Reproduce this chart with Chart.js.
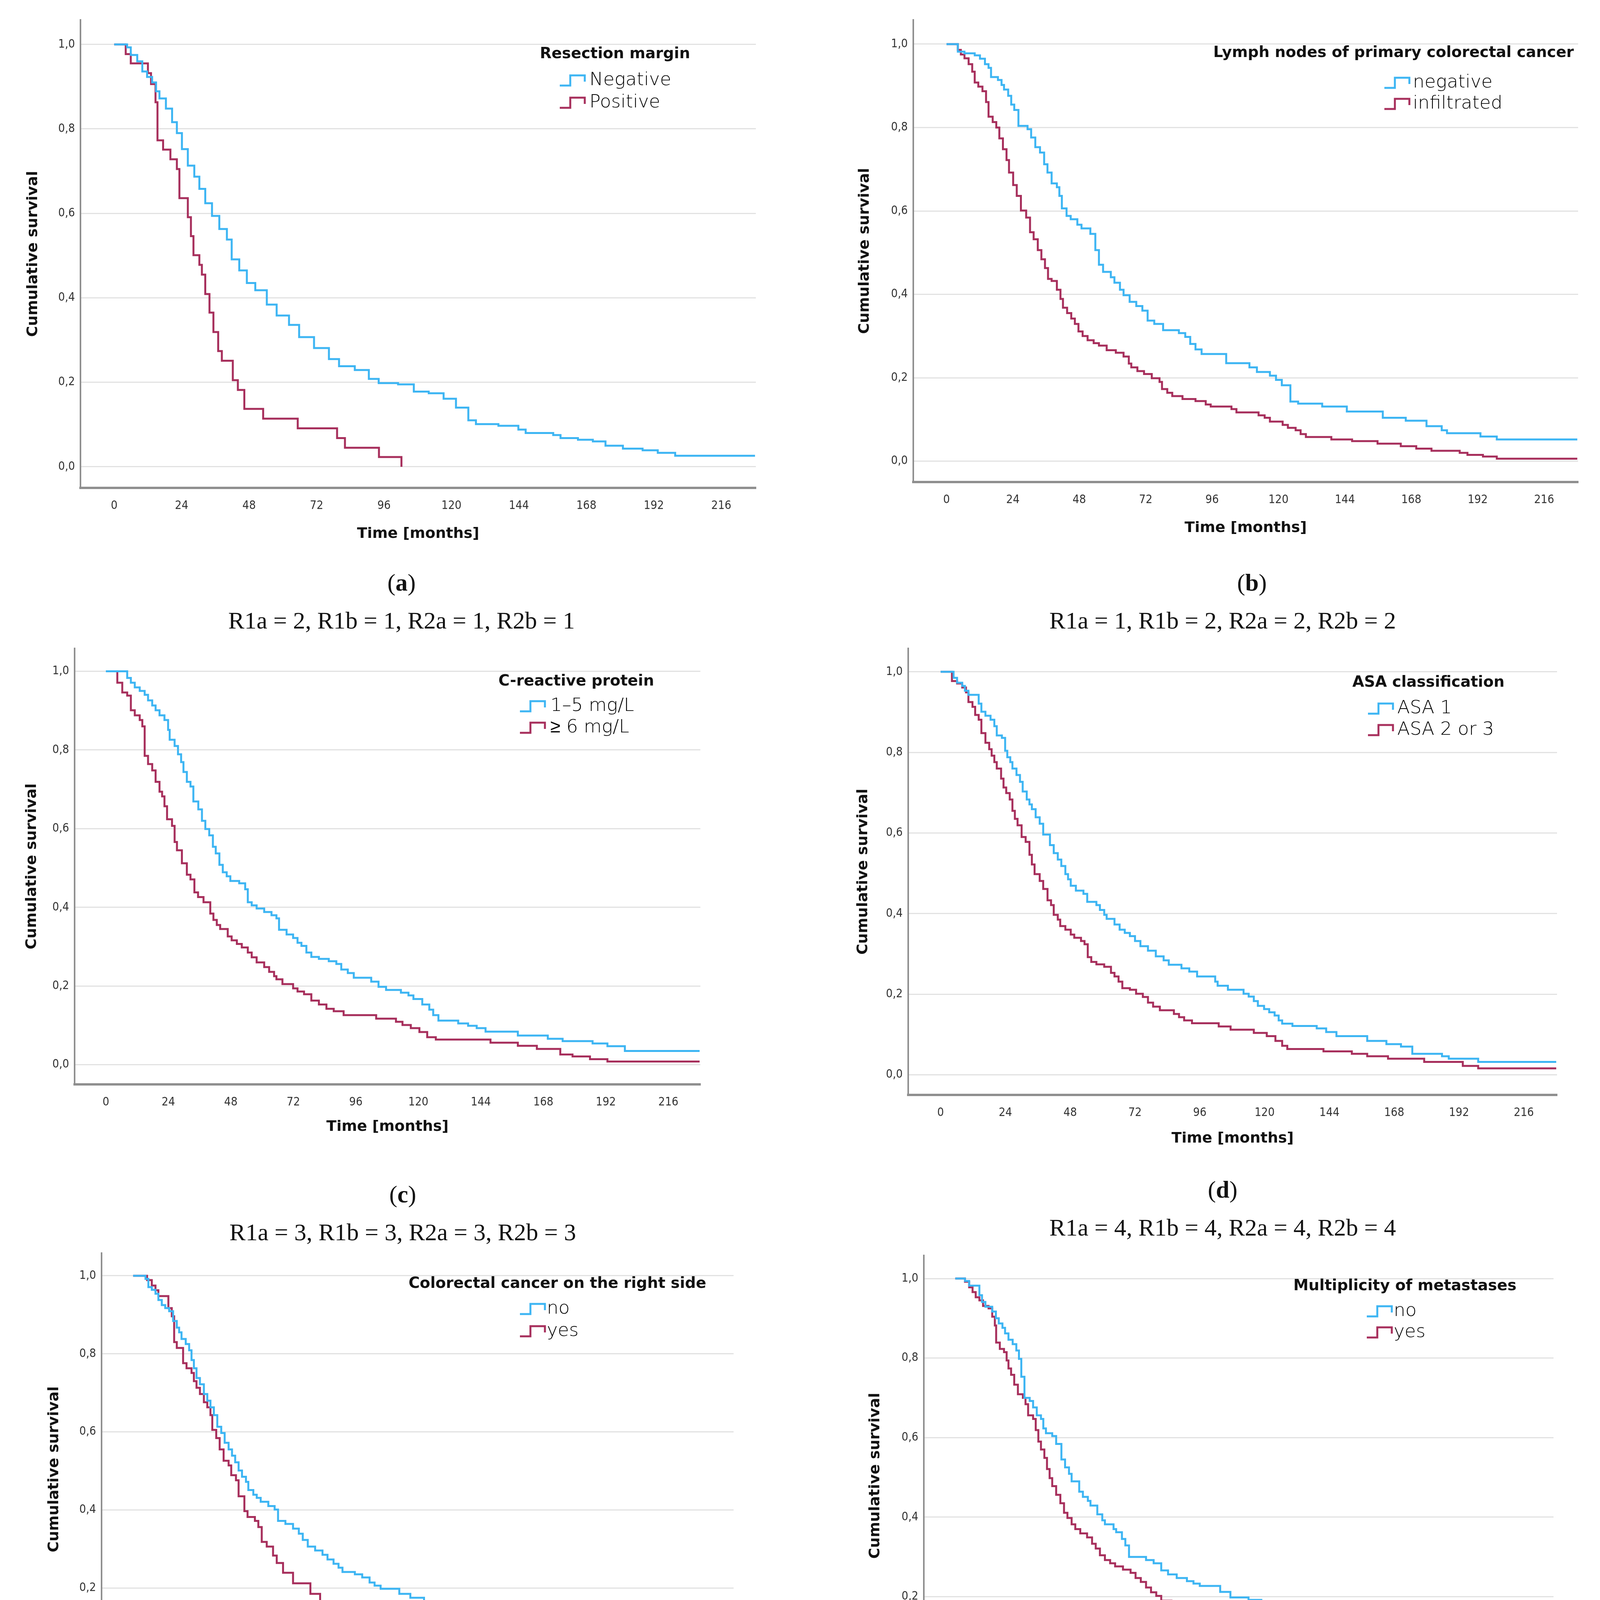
<!DOCTYPE html>
<html lang="en">
<head>
<meta charset="utf-8">
<title>Cumulative survival</title>
<script src="https://cdn.jsdelivr.net/npm/chart.js@4.4.1/dist/chart.umd.min.js"></script>
<style>
  html, body { margin: 0; padding: 0; background: #fff; }
  #page { position: relative; width: 4173px; height: 4742px; overflow: hidden; background: #fff; }
  #page canvas { position: absolute; }
  .sous-titre {
    position: absolute; transform: translate(-50%, -50%);
    font-family: "Liberation Serif", "DejaVu Serif", serif;
    font-size: 62px; color: #111; white-space: nowrap;
  }
</style>
</head>
<body>
<div id="page"></div>
<script>
// ---------- Donnees (temps en mois, survie cumulee) ----------

const ticksTemps = [0, 24, 48, 72, 96, 120, 144, 168, 192, 216];
const ticksSurvie = [0, 0.2, 0.4, 0.6, 0.8, 1.0];

// (a) Marge de resection
const margeNegative = [[0,1],[4.6,0.993],[5.9,0.975],[8.2,0.96],[10,0.936],[11.7,0.923],[13.5,0.91],[14.9,0.889],[16.1,0.872],[18.4,0.848],[20.6,0.816],[22.3,0.79],[24.1,0.752],[26.2,0.713],[28.5,0.687],[30.3,0.658],[32.4,0.624],[34.8,0.594],[37.4,0.563],[40.1,0.538],[41.8,0.491],[44.5,0.465],[47.2,0.435],[50.2,0.418],[54.3,0.384],[57.8,0.358],[62.2,0.336],[65.8,0.307],[71.1,0.281],[76.4,0.255],[80,0.238],[85.6,0.229],[90.6,0.208],[94.1,0.198],[101,0.195],[106.6,0.178],[111.9,0.174],[117.2,0.161],[121.6,0.14],[126,0.11],[128.7,0.101],[136.7,0.097],[143.8,0.088],[146.4,0.08],[156.2,0.075],[158.8,0.068],[165,0.064],[170.3,0.06],[174.8,0.05],[181,0.043],[188,0.039],[193.4,0.033],[199.6,0.026],[228,0.026]];
const margePositive = [[0,1],[4.1,0.977],[5.9,0.955],[12,0.932],[13.1,0.906],[14.7,0.863],[15.4,0.773],[17.4,0.751],[20,0.728],[22.3,0.705],[23.2,0.636],[26.2,0.591],[27.3,0.546],[28.2,0.501],[30.3,0.478],[31.2,0.455],[32.4,0.409],[33.9,0.365],[35.3,0.319],[37,0.274],[38.3,0.251],[42.2,0.205],[44,0.182],[46.3,0.137],[53,0.114],[65.3,0.091],[79.3,0.068],[82.1,0.045],[94.2,0.023],[102.2,0]];

// (b) Ganglions du cancer colorectal primitif
const ganglionsNegatif = [[0,1],[4.1,0.982],[6.5,0.978],[10.2,0.973],[12.1,0.965],[13.9,0.952],[15.2,0.943],[16.1,0.921],[18.6,0.914],[19.9,0.902],[20.8,0.891],[22.3,0.876],[23.4,0.855],[24.5,0.842],[26,0.804],[29.3,0.796],[30.6,0.776],[32.1,0.753],[33.8,0.74],[35.3,0.712],[36.5,0.692],[38,0.666],[39.9,0.657],[40.8,0.636],[41.7,0.606],[43.4,0.588],[44.9,0.58],[47.3,0.567],[48.8,0.558],[52,0.545],[53.8,0.506],[55.1,0.471],[56.6,0.454],[59.4,0.441],[60.7,0.428],[62.7,0.411],[64,0.398],[66.2,0.382],[68.6,0.372],[70.8,0.361],[72.7,0.337],[75.1,0.329],[78.3,0.314],[84,0.307],[86.3,0.298],[88.1,0.281],[90,0.268],[92.2,0.257],[101.1,0.235],[109.5,0.225],[112.2,0.214],[116.9,0.205],[119.1,0.195],[121.2,0.182],[124.3,0.143],[127.1,0.138],[135.8,0.131],[144.7,0.119],[157.7,0.104],[166,0.097],[173.5,0.084],[179,0.074],[180.9,0.067],[193,0.059],[198.9,0.052],[228,0.052]];
const ganglionsInfiltre = [[0,1],[4.1,0.986],[5.2,0.975],[6.5,0.966],[8,0.952],[9.3,0.934],[10.2,0.908],[11.5,0.898],[13,0.887],[14.3,0.861],[15.2,0.826],[16.7,0.813],[18,0.8],[19.1,0.774],[20.4,0.748],[21.7,0.722],[22.6,0.692],[24.1,0.662],[25.4,0.636],[26.9,0.601],[28.8,0.584],[30.2,0.549],[31.5,0.532],[33,0.506],[34.3,0.484],[35.6,0.463],[36.7,0.437],[38,0.432],[39.9,0.411],[41.2,0.389],[42.1,0.368],[43.6,0.355],[45.1,0.342],[46.4,0.329],[47.7,0.311],[49.2,0.3],[51,0.29],[53.2,0.283],[55.1,0.277],[57.9,0.266],[61.2,0.26],[64,0.251],[65.9,0.234],[66.8,0.225],[69,0.216],[71.4,0.209],[74.2,0.199],[77,0.19],[77.9,0.173],[79.8,0.164],[81.6,0.156],[85.3,0.149],[90,0.144],[93.7,0.136],[95.5,0.131],[103,0.125],[104.8,0.117],[112.8,0.11],[115,0.104],[116.9,0.095],[121.5,0.087],[123.4,0.08],[126.2,0.074],[128,0.065],[129.9,0.058],[139.1,0.052],[146.6,0.048],[155.8,0.042],[164.2,0.036],[169.8,0.03],[175.3,0.025],[185.5,0.02],[188.3,0.015],[193.9,0.011],[198.9,0.006],[228,0.006]];

// (c) Proteine C-reactive
const crpBasse = [[0,1],[8.2,0.983],[9.6,0.971],[11.1,0.959],[13,0.95],[14.9,0.94],[16.2,0.926],[17.8,0.913],[19.1,0.901],[20.6,0.888],[22.5,0.876],[23.9,0.851],[24.5,0.826],[26.4,0.81],[27.7,0.789],[28.9,0.769],[29.8,0.744],[31.1,0.719],[32.5,0.707],[33.6,0.669],[35.5,0.649],[36.9,0.62],[38.2,0.599],[39.7,0.583],[41.1,0.554],[42.2,0.537],[43.6,0.508],[44.9,0.489],[46.4,0.479],[47.8,0.467],[51.2,0.461],[53.5,0.446],[54.5,0.413],[56,0.405],[57.9,0.397],[60.8,0.388],[63.6,0.38],[65.5,0.372],[66.5,0.343],[69.4,0.331],[71.9,0.322],[73.6,0.31],[75.1,0.302],[77,0.285],[78.9,0.274],[81.8,0.269],[85.6,0.263],[88.5,0.256],[90.4,0.242],[92.9,0.233],[95.2,0.221],[101.9,0.211],[104.7,0.198],[107.6,0.19],[113.3,0.183],[116.2,0.176],[118.1,0.167],[121.5,0.153],[124.2,0.14],[125.7,0.126],[127.7,0.112],[135.3,0.105],[139.1,0.099],[142.4,0.093],[145.8,0.084],[158.2,0.074],[169.7,0.066],[175.4,0.06],[186.9,0.054],[192.6,0.047],[199.3,0.035],[228,0.035]];
const crpElevee = [[0,1],[4.4,0.971],[6.3,0.946],[8.2,0.938],[9.6,0.901],[11.1,0.888],[13,0.876],[14,0.86],[14.9,0.785],[16.2,0.764],[17.8,0.748],[19.1,0.719],[20.6,0.694],[21.6,0.682],[22.5,0.657],[23.5,0.624],[25.4,0.607],[26.4,0.566],[27.3,0.545],[29.2,0.512],[31.1,0.483],[32.5,0.471],[34,0.438],[35.4,0.426],[37.5,0.413],[40.1,0.384],[41.3,0.368],[42.6,0.355],[43.9,0.345],[46.8,0.326],[48.3,0.316],[50.3,0.307],[52.2,0.298],[54.5,0.285],[56,0.273],[57.9,0.26],[60.8,0.248],[62.7,0.236],[64.6,0.225],[65.5,0.217],[67.8,0.205],[71.9,0.194],[73.6,0.186],[76.1,0.179],[78.9,0.163],[81.8,0.153],[84.7,0.142],[87.5,0.136],[91.3,0.126],[103.8,0.117],[111.4,0.109],[113.9,0.101],[117.1,0.093],[120.4,0.083],[123.4,0.07],[126.7,0.064],[147.7,0.056],[158.2,0.048],[165.5,0.04],[174.5,0.026],[179.2,0.021],[185.9,0.014],[192.6,0.008],[228,0.008]];

// (d) Classification ASA
const asa1 = [[0,1],[4.8,0.985],[6.1,0.973],[8,0.965],[9,0.953],[10.3,0.943],[14.1,0.921],[15.1,0.901],[16.6,0.891],[18.5,0.881],[19.9,0.865],[20.8,0.842],[22.7,0.836],[23.9,0.804],[24.7,0.788],[25.8,0.776],[26.6,0.76],[28.1,0.744],[29.4,0.727],[30.4,0.703],[31.9,0.683],[32.9,0.671],[33.8,0.659],[35.2,0.639],[36.7,0.623],[38,0.596],[40.5,0.57],[41.9,0.55],[43.4,0.534],[44.7,0.518],[46.2,0.498],[47.2,0.485],[48.2,0.469],[50.1,0.457],[52.9,0.449],[54.3,0.429],[57.7,0.421],[59,0.409],[60.6,0.397],[61.5,0.387],[64.4,0.373],[66.3,0.36],[68.2,0.352],[70.1,0.344],[72,0.332],[74,0.319],[76.8,0.308],[79.7,0.294],[82.6,0.284],[84.5,0.273],[89.2,0.264],[92.1,0.256],[95,0.244],[101.7,0.231],[102.6,0.221],[106.4,0.211],[112.2,0.201],[114.1,0.194],[116,0.183],[117.5,0.171],[119.8,0.163],[121.7,0.155],[123.7,0.147],[125.2,0.135],[126.5,0.127],[130.3,0.121],[139.3,0.115],[142.8,0.106],[146.6,0.096],[158,0.084],[165.1,0.076],[170.5,0.07],[174.7,0.052],[185.7,0.046],[188.2,0.04],[199.1,0.032],[228,0.032]];
const asa23 = [[0,1],[4.2,0.977],[6.1,0.971],[8,0.961],[9.4,0.949],[10.3,0.925],[11.8,0.913],[12.8,0.893],[14.1,0.881],[15.1,0.848],[16.6,0.824],[18,0.808],[18.9,0.792],[19.9,0.776],[20.8,0.76],[22.4,0.735],[23.3,0.713],[24.3,0.699],[25.6,0.683],[26.6,0.655],[27.5,0.635],[28.5,0.619],[30,0.59],[31.5,0.578],[32.9,0.546],[33.8,0.522],[34.8,0.498],[36.7,0.481],[38,0.461],[39.6,0.433],[40.9,0.421],[41.9,0.397],[43.4,0.385],[44.3,0.369],[46.2,0.36],[48.2,0.348],[49.5,0.34],[52,0.332],[53.3,0.324],[54.5,0.292],[55.8,0.28],[57.7,0.274],[60.6,0.268],[63.1,0.253],[64.4,0.244],[65.9,0.231],[67.3,0.215],[70.1,0.211],[72.4,0.201],[74.9,0.193],[76.8,0.179],[78.7,0.169],[81.2,0.16],[86.4,0.151],[88.3,0.143],[90.2,0.135],[93.1,0.128],[103,0.12],[107.4,0.112],[116,0.104],[120.8,0.096],[124,0.084],[126.5,0.072],[128.4,0.064],[141.8,0.058],[152.3,0.052],[158,0.046],[165.7,0.04],[179.1,0.032],[193.4,0.022],[199.1,0.016],[228,0.016]];

// (e) Cancer colorectal du cote droit
const droitNon = [[0,1],[4.7,0.992],[5.8,0.971],[7.1,0.964],[8.5,0.954],[9.6,0.938],[10.9,0.925],[12.2,0.917],[13.7,0.909],[15.2,0.884],[16.6,0.867],[17.5,0.855],[18.4,0.838],[20,0.825],[21.3,0.809],[22.2,0.784],[23.1,0.763],[24.1,0.738],[25.4,0.722],[26.9,0.697],[28.2,0.68],[29.4,0.663],[30.7,0.643],[32,0.613],[33.5,0.597],[34.8,0.572],[36.3,0.555],[37.6,0.539],[38.8,0.522],[40.1,0.501],[41.4,0.485],[42.9,0.472],[43.8,0.451],[45.7,0.439],[47,0.431],[48.5,0.421],[51.4,0.41],[53.8,0.401],[55.1,0.372],[57.9,0.364],[60.8,0.352],[63,0.339],[64.5,0.323],[66.4,0.306],[69.2,0.296],[72,0.285],[73.9,0.273],[76.2,0.262],[78.1,0.252],[79.6,0.241],[84.3,0.235],[87.1,0.227],[89.9,0.214],[91.8,0.206],[94.1,0.198],[101.2,0.185],[105.4,0.175],[110.6,0.166],[114.4,0.156],[117.2,0.148],[119.1,0.135],[121,0.127],[122.9,0.116],[124.7,0.102],[126.6,0.094],[128.5,0.09],[138.9,0.086],[141.7,0.081],[146.4,0.077],[155.8,0.073],[158.6,0.069],[165.2,0.065],[170.8,0.061],[174.6,0.054],[180.2,0.048],[186.8,0.044],[192.5,0.036],[199.1,0.027],[228,0.027]];
const droitOui = [[0,1],[5.3,0.989],[7.1,0.975],[8.5,0.963],[9.6,0.948],[13.4,0.917],[14.7,0.896],[15.6,0.83],[16.6,0.815],[19,0.776],[20.3,0.763],[22.2,0.751],[23.1,0.73],[24.1,0.713],[25.4,0.697],[26.9,0.676],[28.2,0.663],[29.4,0.643],[30.1,0.605],[31.6,0.584],[32.9,0.555],[34.4,0.526],[36.3,0.514],[37.3,0.489],[39.1,0.476],[40.1,0.435],[42.3,0.397],[43.5,0.382],[46.3,0.372],[47.6,0.356],[48.9,0.318],[50.8,0.306],[53.2,0.283],[54.6,0.264],[57,0.239],[60.8,0.212],[67.4,0.185],[71.1,0.16],[78.1,0.144],[80.9,0.121],[85.8,0.108],[116.3,0.094],[127.2,0.08],[136,0.065],[145.4,0.052],[147.3,0.04],[158.2,0.015],[166.1,0]];

// (f) Multiplicite des metastases
const multipleNon = [[0,1],[3.7,0.994],[5.3,0.982],[9.2,0.958],[10.2,0.941],[11.5,0.929],[14.1,0.917],[15.5,0.9],[16.6,0.887],[18,0.876],[19,0.862],[20.3,0.846],[21.9,0.835],[23.3,0.819],[24.3,0.798],[25.2,0.753],[26.4,0.7],[28.4,0.692],[29.7,0.676],[31.1,0.656],[32.7,0.647],[33.6,0.623],[34.6,0.611],[37,0.604],[38.5,0.584],[40.5,0.545],[41.9,0.525],[43.4,0.509],[44.4,0.49],[47.3,0.464],[48.7,0.451],[50.6,0.441],[51.6,0.429],[54.2,0.407],[56.1,0.392],[57.1,0.382],[60.4,0.37],[61.4,0.362],[63.6,0.345],[64.9,0.329],[66.3,0.3],[72.8,0.292],[75.7,0.284],[78.6,0.266],[81.2,0.256],[84.5,0.247],[88.4,0.239],[90.9,0.233],[93.3,0.227],[101.1,0.212],[105,0.198],[111.9,0.192],[116.8,0.174],[120.7,0.162],[123.6,0.141],[125,0.129],[127.5,0.122],[135.3,0.117],[139.3,0.109],[146.1,0.1],[155.9,0.088],[158.8,0.072],[165.7,0.065],[170.5,0.06],[175.4,0.049],[181.3,0.043],[193,0.039],[199.3,0.031],[228,0.031]];
const multipleOui = [[0,1],[3.7,0.992],[5.3,0.978],[6.6,0.966],[7.8,0.953],[9.2,0.945],[10.6,0.931],[12.7,0.925],[14.1,0.904],[15.1,0.882],[15.6,0.839],[17,0.823],[18.6,0.815],[19.6,0.794],[20.3,0.774],[21.3,0.758],[22.5,0.733],[23.9,0.709],[25.8,0.7],[26.8,0.684],[27.8,0.656],[29.7,0.647],[30.7,0.619],[31.7,0.59],[32.7,0.57],[34,0.549],[35,0.521],[36,0.498],[37,0.478],[38.5,0.456],[40.1,0.435],[41.5,0.411],[42.8,0.398],[44.4,0.382],[45.8,0.37],[47.7,0.359],[50.3,0.349],[52.2,0.333],[53.6,0.321],[55.2,0.304],[57.1,0.292],[59.1,0.284],[61,0.276],[64,0.268],[66.9,0.26],[68.8,0.247],[70.8,0.237],[72.8,0.223],[74.7,0.211],[76.7,0.202],[78.6,0.19],[82.5,0.182],[85.5,0.174],[88.4,0.166],[90.4,0.152],[92.9,0.145],[94.9,0.133],[103.1,0.127],[107,0.121],[110.9,0.113],[114.8,0.104],[117.7,0.098],[120.7,0.088],[123.6,0.082],[126.1,0.07],[128.5,0.06],[142.2,0.054],[146.1,0.047],[165.7,0.042],[173.5,0.035],[181.3,0.027],[188.2,0.021],[193,0.015],[199.3,0.011],[228,0.011]];

// Textes
const titresLegende = ["Resection margin", "Lymph nodes of primary colorectal cancer", "C-reactive protein", "ASA classification", "Colorectal cancer on the right side", "Multiplicity of metastases"];
const libellesMarge = ["Negative", "Positive"];
const libellesGanglions = ["negative", "infiltrated"];
const libellesCrp = ["1–5 mg/L", "≥ 6 mg/L"];
const libellesAsa = ["ASA 1", "ASA 2 or 3"];
const libellesDroit = ["no", "yes"];
const libellesMultiple = ["no", "yes"];
const lettres = ["a", "b", "c", "d", "e", "f"];
const scores = ["R1a = 2, R1b = 1, R2a = 1, R2b = 1", "R1a = 1, R1b = 2, R2a = 2, R2b = 2", "R1a = 3, R1b = 3, R2a = 3, R2b = 3", "R1a = 4, R1b = 4, R2a = 4, R2b = 4", "R1a = 8, R1b = 6, R2a = 6, R2b = 5", "R1a = 6, R1b = 7, R2a = 7, R2b = 6"];

// ---------- Mise en page (pixels de la page) ----------

const BLEU = "#3db5f3";
const ROUGE = "#a72f5c";
const LARG_AXE_Y = 210;
const HAUT_AXE_X = 170;
const TAILLE_TITRE_AXE = 38;
const DEMI_LIGNE = TAILLE_TITRE_AXE * 1.2 / 2;

const panneaux = [
  { series: [margeNegative, margePositive], libelles: libellesMarge, axeX: 206, haut: 51, bas: 1249, droite: 1935, titreY: 121, titreX: 118,
    leg: { tx: 1176, ty: 88, ix: 1227, lx: 1303, y1: 155, y2: 212 }, lettre: [1028, 1491], score: [1028, 1588] },
  { series: [ganglionsNegatif, ganglionsInfiltre], libelles: libellesGanglions, axeX: 2338, haut: 51, bas: 1234, droite: 4040, titreY: 124, titreX: 118,
    leg: { tx: 768, ty: 85, ix: 1206, lx: 1279, y1: 161, y2: 215 }, lettre: [3205, 1491], score: [3130, 1588] },
  { series: [crpBasse, crpElevee], libelles: libellesCrp, axeX: 191, haut: 1660, bas: 2776, droite: 1793, titreY: 109, titreX: 109,
    leg: { tx: 1085, ty: 85, ix: 1140, lx: 1218, y1: 148, y2: 203 }, lettre: [1031, 3057], score: [1031, 3154] },
  { series: [asa1, asa23], libelles: libellesAsa, axeX: 2325, haut: 1660, bas: 2803, droite: 3986, titreY: 115, titreX: 112,
    leg: { tx: 1137, ty: 88, ix: 1177, lx: 1252, y1: 154, y2: 209 }, lettre: [3130, 3045], score: [3130, 3142] },
  { series: [droitNon, droitOui], libelles: libellesDroit, axeX: 260, haut: 3208, bas: 4315, droite: 1878, titreY: 121, titreX: 109,
    leg: { tx: 786, ty: 79, ix: 1071, lx: 1140, y1: 143, y2: 200 }, lettre: [1028, 4569], score: [1031, 4657] },
  { series: [multipleNon, multipleOui], libelles: libellesMultiple, axeX: 2365, haut: 3214, bas: 4342, droite: 3977, titreY: 124, titreX: 112,
    leg: { tx: 946, ty: 79, ix: 1134, lx: 1203, y1: 143, y2: 197 }, lettre: [3130, 4557], score: [3130, 4657] },
];

// ---------- Legende dessinee dans la zone du graphique ----------

const legendeKM = {
  id: "legendeKM",
  afterDraw(chart, args, o) {
    const ctx = chart.ctx;
    const zone = chart.chartArea;
    ctx.save();
    ctx.textBaseline = "middle";
    ctx.textAlign = "left";
    ctx.fillStyle = "#111";
    ctx.font = 'bold 39px "DejaVu Sans", sans-serif';
    ctx.fillText(o.titre, zone.left + o.tx, zone.top + o.ty);
    ctx.font = '200 47px "DejaVu Sans", sans-serif';
    o.libelles.forEach((lib, i) => {
      const y = zone.top + (i === 0 ? o.y1 : o.y2);
      const x = zone.left + o.ix;
      const w = 64, h = 26;
      // petit symbole en escalier
      ctx.strokeStyle = o.couleurs[i];
      ctx.lineWidth = 5;
      ctx.beginPath();
      ctx.moveTo(x, y + h / 2);
      ctx.lineTo(x + w * 0.42, y + h / 2);
      ctx.lineTo(x + w * 0.42, y - h / 2);
      ctx.lineTo(x + w, y - h / 2);
      ctx.lineTo(x + w, y + 3);
      ctx.stroke();
      ctx.fillStyle = "#000";
      ctx.fillText(lib, zone.left + o.lx, y);
    });
    ctx.restore();
  }
};

// ---------- Construction des graphiques ----------

const page = document.getElementById("page");
const policeTicks = '"Liberation Sans Narrow", "DejaVu Sans Condensed", "Liberation Sans", sans-serif';
const policeTitres = '"DejaVu Sans", sans-serif';

panneaux.forEach((p, n) => {
  const canvas = document.createElement("canvas");
  const gauche = p.axeX - LARG_AXE_Y;
  const haut = p.haut - 10;
  canvas.width = p.droite - p.axeX + LARG_AXE_Y + 20;
  canvas.height = p.bas - p.haut + 10 + HAUT_AXE_X;
  canvas.style.left = gauche + "px";
  canvas.style.top = haut + "px";
  page.appendChild(canvas);

  new Chart(canvas, {
    type: "line",
    data: {
      datasets: p.series.map((s, i) => ({
        label: p.libelles[i],
        data: s.map(pt => ({ x: pt[0], y: pt[1] })),
        borderColor: i === 0 ? BLEU : ROUGE,
        borderWidth: 5,
        pointRadius: 0,
        stepped: true,
        fill: false,
      })),
    },
    options: {
      responsive: false,
      animation: false,
      devicePixelRatio: 1,
      layout: { padding: { top: 10, right: 20, left: 0, bottom: 0 } },
      plugins: {
        legend: { display: false },
        tooltip: { enabled: false },
        legendeKM: { titre: titresLegende[n], libelles: p.libelles, couleurs: [BLEU, ROUGE], ...p.leg },
      },
      scales: {
        x: {
          type: "linear", min: -12, max: 228.3,
          afterBuildTicks: s => { s.ticks = ticksTemps.map(v => ({ value: v })); },
          afterFit: s => { s.height = HAUT_AXE_X; s.paddingLeft = 0; s.paddingRight = 0; },
          grid: { display: false },
          border: { display: true, color: "#8f8f8f", width: 6 },
          ticks: { padding: 20, maxRotation: 0, autoSkip: false, color: "#333", font: { family: policeTicks, size: 30 } },
          title: { display: true, text: "Time [months]", color: "#111",
                   font: { family: policeTitres, weight: "bold", size: TAILLE_TITRE_AXE },
                   padding: { top: 0, bottom: HAUT_AXE_X - p.titreX - DEMI_LIGNE } },
        },
        y: {
          type: "linear", min: -0.05, max: 1.058,
          afterBuildTicks: s => { s.ticks = ticksSurvie.map(v => ({ value: v })); },
          afterFit: s => { s.width = LARG_AXE_Y; s.paddingTop = 0; s.paddingBottom = 0; },
          grid: { color: "#e2e2e2", lineWidth: 3, drawTicks: false },
          border: { display: true, color: "#8f8f8f", width: 4 },
          ticks: { padding: 14, color: "#333", font: { family: policeTicks, size: 30 },
                   callback: v => v.toFixed(1).replace(".", ",") },
          title: { display: true, text: "Cumulative survival", color: "#111",
                   font: { family: policeTitres, weight: "bold", size: TAILLE_TITRE_AXE },
                   padding: { top: LARG_AXE_Y - p.titreY - DEMI_LIGNE, bottom: 0 } },
        },
      },
    },
    plugins: [legendeKM],
  });

  // Sous-titres (lettre et scores) en texte HTML
  const lettre = document.createElement("div");
  lettre.className = "sous-titre";
  lettre.style.left = p.lettre[0] + "px";
  lettre.style.top = p.lettre[1] + "px";
  lettre.innerHTML = "(<b>" + lettres[n] + "</b>)";
  page.appendChild(lettre);

  const score = document.createElement("div");
  score.className = "sous-titre";
  score.style.left = p.score[0] + "px";
  score.style.top = p.score[1] + "px";
  score.textContent = scores[n];
  page.appendChild(score);
});
</script>
</body>
</html>
